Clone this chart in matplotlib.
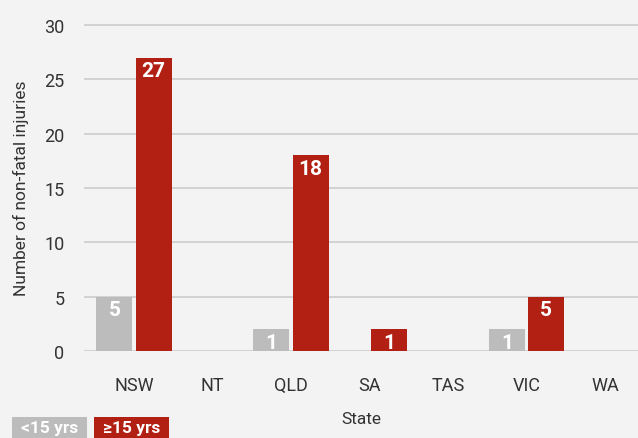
import numpy as np
import matplotlib
matplotlib.use('Agg')
import matplotlib.pyplot as plt
from matplotlib.patches import Rectangle

plt.rcParams['font.family'] = ['Roboto', 'DejaVu Sans']

states = ['NSW', 'NT', 'QLD', 'SA', 'TAS', 'VIC', 'WA']
under15 = [5, 0, 1, 0, 0, 1, 0]
over15 = [27, 0, 18, 1, 0, 5, 0]
yticks = [0, 5, 10, 15, 20, 25, 30]

BG = '#f3f3f3'
GREY = '#bcbcbc'
RED = '#b21f13'
MIN_H = 2  # small counts drawn taller so the label fits
W, H = 638, 439

fig = plt.figure(figsize=(6.38, 4.39), dpi=100, facecolor=BG)
ax = fig.add_axes([84 / W, 87 / H, 1 - 84 / W, (352 - 24) / H])
ax.set_facecolor(BG)

x = np.arange(len(states))
w = 0.46
off = 0.25


def draw(vals, dx, color):
    vals = np.array(vals)
    h = np.where(vals > 0, np.maximum(vals, MIN_H), 0)
    ax.bar(x + dx, h, width=w, color=color, zorder=3)
    for xi, hi, v in zip(x + dx, h, vals):
        if v > 0:
            ax.text(xi, hi - 0.35, str(v), ha='center', va='top', color='white',
                    fontsize=15, fontweight='bold', zorder=4)


draw(under15, -off, GREY)
draw(over15, off, RED)

ax.set_xlim(-0.637, 6.42)
ax.set_ylim(0, 30 * (352 - 24) / (352 - 26))
ax.set_yticks(yticks)
ax.set_xticks(x)
ax.set_xticklabels(states)
ax.grid(axis='y', color='#cccccc', linewidth=1.2, zorder=0)
for s in ax.spines.values():
    s.set_visible(False)
ax.tick_params(axis='both', length=0, labelsize=13, colors='#333333')
ax.tick_params(axis='x', pad=18)
ax.tick_params(axis='y', pad=14)
ax.set_xlabel('State', fontsize=12.5, color='#333333', labelpad=12)
ax.set_ylabel('Number of non-fatal injuries', fontsize=12.5, color='#333333', labelpad=11)

# legend boxes
for x0, x1, label, color in [(12, 87, '<15 yrs', GREY), (94, 169, '≥15 yrs', RED)]:
    fig.patches.append(Rectangle((x0 / W, 0), (x1 - x0) / W, 21 / H,
                                 transform=fig.transFigure, facecolor=color,
                                 edgecolor='none'))
    fig.text((x0 + x1) / 2 / W, 10 / H, label, ha='center', va='center',
             color='white', fontsize=12.5, fontweight='bold')

fig.savefig('out.png', dpi=100, facecolor=BG)
